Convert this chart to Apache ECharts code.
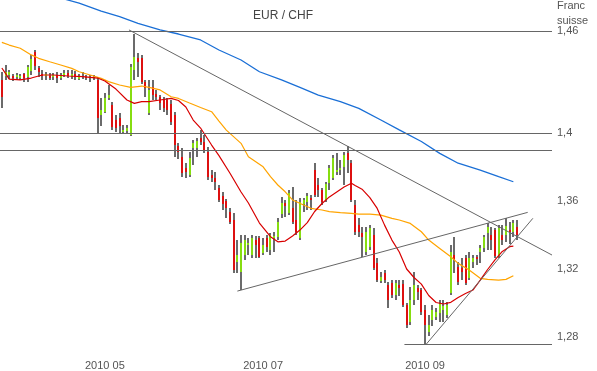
<!DOCTYPE html>
<html><head><meta charset="utf-8">
<script src="https://cdn.jsdelivr.net/npm/echarts@6/dist/echarts.min.js"></script>
<style>html,body{margin:0;padding:0;background:#fff}#c{width:597px;height:371px}</style>
</head><body><div id="c"></div>
<script>
// trading-day index 0 = 2010-03-24
const tickIdx = [28, 71, 115];
const tickLabels = ['2010 05', '2010 07', '2010 09'];
const yTicks = [1.28, 1.32, 1.36, 1.4, 1.46];

const opens = [1.4311,1.4335,1.4341,1.4335,1.4329,1.4323,1.4346,1.4329,1.4364,1.4476,
 1.4382,1.4346,1.4335,1.4335,1.4329,1.4341,1.4323,1.4341,1.4352,1.4335,
 1.4346,1.4317,1.4335,1.4329,1.4323,1.4329,1.4311,1.4106,1.4123,1.4206,
 1.4165,1.4076,1.4088,1.4006,1.4011,1.3988,1.4370,1.4441,1.4441,1.4299,
 1.4117,1.4270,1.4229,1.4212,1.4194,1.4194,1.4170,1.4106,1.3923,1.3859,
 1.3794,1.3753,1.3912,1.3912,1.3970,1.3946,1.3888,1.3753,1.3735,1.3676,
 1.3629,1.3600,1.3535,1.3488,1.3241,1.3182,1.3282,1.3341,1.3282,1.3370,
 1.3382,1.3293,1.3382,1.3311,1.3382,1.3388,1.3523,1.3588,1.3529,1.3559,
 1.3488,1.3382,1.3582,1.3594,1.3617,1.3782,1.3694,1.3664,1.3606,1.3705,
 1.3735,1.3770,1.3782,1.3800,1.3882,1.3823,1.3577,1.3459,1.3411,1.3299,
 1.3329,1.3400,1.3235,1.3129,1.3176,1.3106,1.3117,1.3047,1.3106,1.3111,
 1.2988,1.2888,1.3017,1.3088,1.3076,1.2958,1.2829,1.2900,1.2917,1.2941,
 1.2958,1.2929,1.3058,1.3282,1.3211,1.3206,1.3264,1.3147,1.3241,1.3270,
 1.3299,1.3323,1.3411,1.3400,1.3429,1.3276,1.3400,1.3400,1.3429,1.3417,
 1.3447];
const closes = [1.4212,1.4358,1.4358,1.4323,1.4341,1.4335,1.4323,1.4388,1.4435,1.4394,
 1.4358,1.4335,1.4346,1.4323,1.4341,1.4323,1.4341,1.4352,1.4335,1.4346,
 1.4329,1.4335,1.4329,1.4323,1.4329,1.4323,1.4088,1.4135,1.4206,1.4223,
 1.4035,1.4029,1.4041,1.4017,1.4029,1.4388,1.4447,1.4417,1.4299,1.4264,
 1.4253,1.4223,1.4212,1.4176,1.4147,1.4135,1.4064,1.3929,1.3888,1.3764,
 1.3770,1.3853,1.3941,1.3952,1.3946,1.3900,1.3741,1.3735,1.3711,1.3606,
 1.3582,1.3559,1.3476,1.3194,1.3282,1.3352,1.3370,1.3352,1.3382,1.3341,
 1.3270,1.3341,1.3329,1.3400,1.3394,1.3476,1.3588,1.3571,1.3646,1.3476,
 1.3417,1.3594,1.3606,1.3629,1.3606,1.3635,1.3664,1.3594,1.3700,1.3794,
 1.3853,1.3782,1.3794,1.3871,1.3841,1.3606,1.3417,1.3417,1.3388,1.3417,
 1.3441,1.3206,1.3135,1.3153,1.3135,1.3017,1.3047,1.3117,1.3088,1.2988,
 1.2870,1.3017,1.3106,1.3064,1.2946,1.2870,1.2870,1.2958,1.2946,1.2994,
 1.2982,1.2988,1.3299,1.3253,1.3123,1.3182,1.3117,1.3264,1.3264,1.3258,
 1.3323,1.3388,1.3447,1.3370,1.3276,1.3441,1.3370,1.3453,1.3417,1.3470,
 1.3400];
const lows = [1.4147,1.4311,1.4317,1.4305,1.4311,1.4311,1.4299,1.4299,1.4341,1.4370,
 1.4329,1.4311,1.4311,1.4311,1.4311,1.4293,1.4311,1.4329,1.4323,1.4317,
 1.4311,1.4311,1.4317,1.4311,1.4299,1.4311,1.3999,1.4041,1.4117,1.4194,
 1.4017,1.4006,1.3999,1.3999,1.3994,1.3982,1.4311,1.4329,1.4288,1.4212,
 1.4106,1.4194,1.4194,1.4135,1.4123,1.4106,1.4047,1.3859,1.3847,1.3741,
 1.3735,1.3741,1.3811,1.3859,1.3929,1.3882,1.3723,1.3711,1.3664,1.3594,
 1.3547,1.3500,1.3464,1.3176,1.3176,1.3076,1.3253,1.3282,1.3264,1.3264,
 1.3264,1.3282,1.3299,1.3282,1.3299,1.3370,1.3500,1.3506,1.3518,1.3464,
 1.3400,1.3370,1.3535,1.3547,1.3547,1.3623,1.3623,1.3577,1.3594,1.3664,
 1.3723,1.3753,1.3753,1.3694,1.3764,1.3594,1.3400,1.3388,1.3270,1.3282,
 1.3311,1.3194,1.3123,1.3117,1.3117,1.2970,1.3029,1.3017,1.3041,1.2976,
 1.2853,1.2870,1.2988,1.3017,1.2929,1.2758,1.2806,1.2864,1.2900,1.2888,
 1.2888,1.2912,1.3047,1.3176,1.3106,1.3135,1.3106,1.3135,1.3206,1.3223,
 1.3235,1.3299,1.3311,1.3311,1.3264,1.3264,1.3341,1.3358,1.3347,1.3388,
 1.3370];
const highs = [1.4358,1.4400,1.4370,1.4346,1.4352,1.4346,1.4352,1.4400,1.4459,1.4488,
 1.4394,1.4370,1.4358,1.4352,1.4352,1.4358,1.4352,1.4370,1.4370,1.4370,
 1.4364,1.4346,1.4358,1.4341,1.4341,1.4341,1.4329,1.4206,1.4235,1.4282,
 1.4182,1.4106,1.4117,1.4047,1.4047,1.4405,1.4582,1.4470,1.4459,1.4311,
 1.4311,1.4311,1.4253,1.4223,1.4212,1.4206,1.4194,1.4123,1.3941,1.3912,
 1.3823,1.3888,1.3958,1.3970,1.4017,1.3988,1.3917,1.3782,1.3770,1.3694,
 1.3652,1.3611,1.3559,1.3529,1.3370,1.3400,1.3400,1.3382,1.3400,1.3394,
 1.3394,1.3382,1.3400,1.3411,1.3417,1.3500,1.3623,1.3606,1.3664,1.3682,
 1.3606,1.3617,1.3617,1.3646,1.3635,1.3823,1.3735,1.3676,1.3711,1.3811,
 1.3871,1.3882,1.3841,1.3888,1.3923,1.3841,1.3606,1.3500,1.3447,1.3447,
 1.3459,1.3441,1.3264,1.3182,1.3194,1.3123,1.3135,1.3135,1.3135,1.3135,
 1.3000,1.3094,1.3182,1.3106,1.3088,1.2988,1.2929,1.2988,1.2970,1.3017,
 1.3017,1.3005,1.3341,1.3388,1.3241,1.3264,1.3282,1.3299,1.3282,1.3282,
 1.3341,1.3400,1.3470,1.3447,1.3441,1.3459,1.3459,1.3500,1.3476,1.3488,
 1.3488];

// moving averages: [trading-day index, value]
const maShort = [[0,1.4382],[1,1.4350],[2,1.4317],[5,1.4312],[8,1.4323],[11,1.4341],[14,1.4341],[18,1.4335],
 [22,1.4331],[26,1.4323],[28,1.4306],[31,1.4258],[34,1.4194],[36,1.4174],[38,1.4184],[40,1.4184],[43,1.4194],
 [46,1.4203],[48,1.4191],[50,1.4153],[52,1.4076],[54,1.4029],[57,1.3929],[59,1.3867],[62,1.3763],[65,1.3653],
 [67,1.3588],[70,1.3470],[73,1.3390],[75,1.3360],[77,1.3364],[79,1.3394],[81,1.3429],[83,1.3473],[85,1.3538],
 [87,1.3585],[89,1.3624],[91,1.3653],[93,1.3682],[95,1.3704],[96,1.3691],[98,1.3667],[100,1.3620],[102,1.3556],
 [104,1.3458],[106,1.3370],[108,1.3300],[110,1.3200],[112,1.3150],[114,1.3111],[116,1.3044],[118,1.3003],
 [120,1.2994],[122,1.3004],[124,1.3032],[126,1.3056],[128,1.3076],[130,1.3135],[132,1.3197],[134,1.3253],
 [136,1.3303],[138,1.3331],[139,1.3334]];
const maMid = [[0,1.4533],[2,1.4517],[5,1.4498],[8,1.4459],[10,1.4439],[13,1.4419],[16,1.4400],[19,1.4380],
 [21,1.4360],[24,1.4341],[27,1.4321],[29,1.4302],[32,1.4282],[35,1.4268],[38,1.4276],[40,1.4268],[43,1.4253],
 [46,1.4213],[48,1.4203],[51,1.4176],[54,1.4150],[57,1.4125],[59,1.4070],[61,1.4017],[65,1.3939],[67,1.3860],
 [71,1.3801],[73,1.3743],[75,1.3694],[77,1.3654],[79,1.3606],[82,1.3576],[84,1.3557],[87,1.3547],[89,1.3537],
 [92,1.3531],[95,1.3527],[97,1.3523],[100,1.3523],[103,1.3517],[106,1.3498],[108,1.3488],[111,1.3468],
 [114,1.3419],[116,1.3370],[119,1.3321],[122,1.3272],[124,1.3233],[127,1.3194],[130,1.3145],[132,1.3139],
 [135,1.3135],[137,1.3139],[139,1.3160]];
const maLong = [[16,1.4794],[21,1.4763],[27,1.4717],[32,1.4684],[37,1.4645],[43,1.4606],[48,1.4582],[54,1.4547],
 [59,1.4488],[65,1.4429],[70,1.4360],[76,1.4312],[81,1.4268],[86,1.4223],[92,1.4184],[97,1.4145],[103,1.4076],
 [108,1.4018],[114,1.3950],[119,1.3880],[124,1.3822],[130,1.3782],[135,1.3743],[139,1.3713]];

const levels = [1.4576, 1.4, 1.3923];
const trendLines = [
  [[34.55, 1.4606], [149.5, 1.3282]],
  [[64.0, 1.3070], [142.9, 1.3533]],
  [[115.3, 1.2757], [144.3, 1.3498]],
  [[109.4, 1.2757], [149.5, 1.2757]]
];

const candles = opens.map((o, i) => [i, o, closes[i], lows[i], highs[i]]);

const GREY = '#6b6b6b', UP = '#86dd10', DOWN = '#dd1010';
const chart = echarts.init(document.getElementById('c'), null, {renderer: 'canvas'});
chart.setOption({
  animation: false,
  backgroundColor: '#fff',
  grid: {left: 0, right: 45, top: 0, height: 354},
  graphic: [
    {type: 'text', x: 283, y: 16, style: {text: 'EUR / CHF', font: '12px Arial', fill: '#444', align: 'center', verticalAlign: 'middle'}},
    {type: 'text', x: 557, y: 6, style: {text: 'Franc', font: '11px Arial', fill: '#555', align: 'left', verticalAlign: 'middle'}},
    {type: 'text', x: 557, y: 21, style: {text: 'suisse', font: '11px Arial', fill: '#555', align: 'left', verticalAlign: 'middle'}}
  ],
  xAxis: {
    type: 'value', min: -0.5, max: 149.5,
    axisLine: {show: false}, axisTick: {show: false}, splitLine: {show: false},
    axisLabel: {
      customValues: tickIdx, margin: 6, color: '#555', fontSize: 11, fontFamily: 'Arial',
      formatter: v => tickLabels[tickIdx.indexOf(Math.round(v))] || ''
    }
  },
  yAxis: {
    type: 'value', position: 'right', min: 1.27, max: 1.4782,
    axisLine: {show: false}, axisTick: {show: false}, splitLine: {show: false},
    axisLabel: {
      customValues: yTicks, margin: 5, color: '#555', fontSize: 11, fontFamily: 'Arial',
      formatter: v => String(Math.round(v * 100) / 100).replace('.', ',')
    }
  },
  series: [
    {
      type: 'custom', data: candles, clip: true, z: 2,
      encode: {x: 0, y: [1, 2, 3, 4]},
      renderItem: function (params, api) {
        const x = api.value(0), o = api.value(1), c = api.value(2), l = api.value(3), h = api.value(4);
        const pH = api.coord([x, h]), pL = api.coord([x, l]), pO = api.coord([x, o]), pC = api.coord([x, c]);
        const cx = Math.round(pH[0]);
        const top = Math.round(Math.min(pO[1], pC[1]));
        const bh = Math.max(1, Math.round(Math.abs(pO[1] - pC[1])));
        return {type: 'group', children: [
          {type: 'rect', shape: {x: cx - 1, y: Math.round(pH[1]), width: 2, height: Math.max(1, Math.round(pL[1] - pH[1]))}, style: {fill: GREY}},
          {type: 'rect', shape: {x: cx - 1, y: top, width: 2, height: bh}, style: {fill: c >= o ? UP : DOWN}}
        ]};
      }
    },
    {type: 'line', data: maLong, showSymbol: false, symbol: 'none', z: 3, lineStyle: {color: '#1a6fd6', width: 1.3}},
    {type: 'line', data: maMid, showSymbol: false, symbol: 'none', z: 3, lineStyle: {color: '#ffa400', width: 1.2}},
    {type: 'line', data: maShort, showSymbol: false, symbol: 'none', z: 3, lineStyle: {color: '#d80000', width: 1.2}},
    {
      type: 'line', data: [], z: 4,
      markLine: {
        silent: true, symbol: ['none', 'none'], label: {show: false},
        lineStyle: {color: '#666', width: 1, type: 'solid'},
        emphasis: {disabled: true},
        data: levels.map(v => ({yAxis: v})).concat(
          trendLines.map(t => [{coord: t[0]}, {coord: t[1]}]))
      }
    }
  ]
});
</script></body></html>
